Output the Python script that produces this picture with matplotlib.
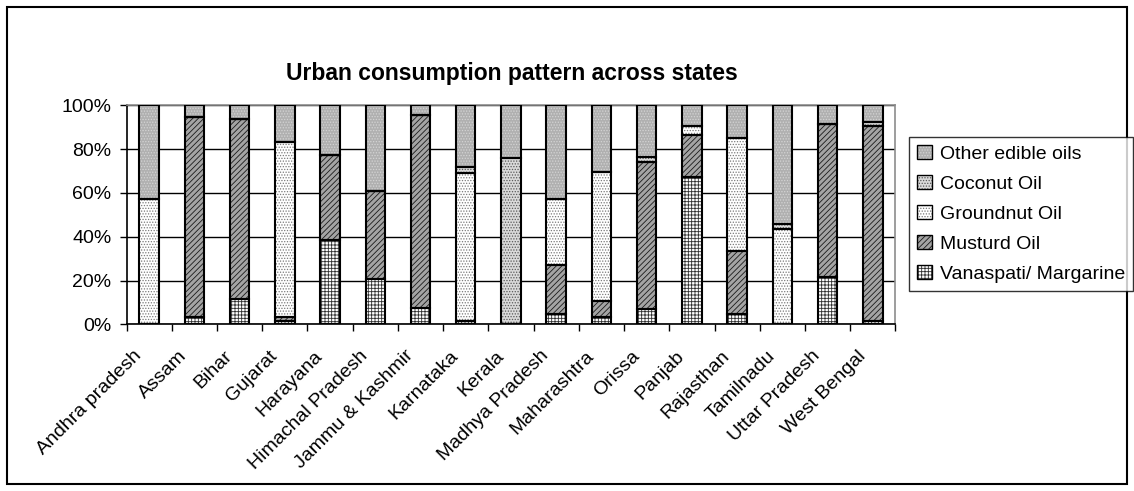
import numpy as np
import matplotlib
matplotlib.use("Agg")
from matplotlib import pyplot as plt
from matplotlib.patches import Patch, Rectangle
from matplotlib.transforms import ScaledTranslation

plt.rcParams['font.family'] = ['Liberation Sans', 'DejaVu Sans']
plt.rcParams['hatch.linewidth'] = 0.6

states = ["Andhra pradesh", "Assam", "Bihar", "Gujarat", "Harayana",
          "Himachal Pradesh", "Jammu & Kashmir", "Karnataka", "Kerala",
          "Madhya Pradesh", "Maharashtra", "Orissa", "Panjab", "Rajasthan",
          "Tamilnadu", "Uttar Pradesh", "West Bengal"]

# share of urban consumption, percent
vanaspati = [0, 3.5, 11.7, 1.5, 38.4, 20.5, 7.3, 1.5, 0, 4.6, 3.5, 6.8, 67.4, 4.6, 0, 21.8, 1.7]
mustard = [0, 91.0, 82.2, 2.0, 38.8, 40.2, 88.4, 0, 0, 22.5, 7.2, 67.2, 18.9, 29.0, 0, 69.8, 88.7]
groundnut = [57.4, 0, 0, 79.8, 0, 0, 0, 67.8, 0, 30.0, 59.0, 0, 4.4, 51.5, 43.4, 0, 0]
coconut = [0, 0, 0, 0, 0, 0, 0, 2.7, 75.8, 0, 0, 2.3, 0, 0, 2.3, 0, 2.0]
other = [42.6, 5.5, 6.1, 16.7, 22.8, 39.3, 4.3, 28.0, 24.2, 42.9, 30.3, 23.7, 9.3, 14.9, 54.3, 8.4, 7.6]

series = [
    ("Vanaspati/ Margarine", vanaspati, "white", "+++++", "#303030"),
    ("Musturd Oil", mustard, "#a4a4a4", "//////", "#1a1a1a"),
    ("Groundnut Oil", groundnut, "white", "......", "#7a7a7a"),
    ("Coconut Oil", coconut, "#dadada", "......", "#5a5a5a"),
    ("Other edible oils", other, "#b0b0b0", "......", "#d4d4d4"),
]

fig = plt.figure(figsize=(11.34, 4.91), dpi=100)
ax = fig.add_axes([0.1116, 0.3395, 0.678, 0.446])

x = np.arange(len(states))
width = 0.43
bottom = np.zeros(len(states))
handles = []
for name, vals, face, hatch, hcol in series:
    vals = np.array(vals, dtype=float)
    ax.bar(x, vals, width, bottom=bottom, color=face, hatch=hatch,
           edgecolor=hcol, linewidth=0, zorder=3)
    ax.bar(x, vals, width, bottom=bottom, fill=False, edgecolor="black",
           linewidth=1.5, zorder=4)
    bottom += vals
    handles.append((Patch(facecolor=face, hatch=hatch, edgecolor=hcol, linewidth=0),
                    Patch(fill=False, edgecolor="black", linewidth=1.0)))

ax.set_xlim(-0.5, len(states) - 0.5)
ax.set_ylim(0, 100)
ax.set_yticks(np.arange(0, 101, 20))
ax.set_yticklabels([f"{v}%" for v in range(0, 101, 20)], fontsize=14)
ax.yaxis.grid(True, color="black", linewidth=1.0, zorder=0)
ax.set_axisbelow(True)

# category names drawn as rotated text hanging off the axis
ax.set_xticks(x)
ax.set_xticklabels([])
label_offset = ax.get_xaxis_transform() + ScaledTranslation(-0.10, -0.29, fig.dpi_scale_trans)
for xi, name in zip(x, states):
    ax.text(xi, 0, name, transform=label_offset, fontsize=14, rotation=45,
            ha="right", va="center", rotation_mode="anchor", clip_on=False)
ax.set_xticks(np.arange(-0.5, len(states)), minor=True)
ax.tick_params(axis="x", which="major", length=0)
ax.tick_params(axis="x", which="minor", length=5, width=1, direction="out")
ax.tick_params(axis="y", length=5, width=1, pad=6)

for side in ("top", "right"):
    ax.spines[side].set_color("#8c8c8c")
    ax.spines[side].set_linewidth(1.2)
for side in ("left", "bottom"):
    ax.spines[side].set_color("black")
    ax.spines[side].set_linewidth(1.2)

fig.text(0.451, 0.851, "Urban consumption pattern across states",
         fontsize=16.5, fontweight="bold", ha="center", va="center")

leg = fig.legend(handles[::-1], [s[0] for s in series][::-1],
                 loc="upper left", bbox_to_anchor=(0.8016, 0.7216),
                 fontsize=14, frameon=True, fancybox=False,
                 handlelength=0.75, handleheight=0.75, handletextpad=0.4,
                 labelspacing=0.62, borderpad=0.42, borderaxespad=0)
leg.get_frame().set_edgecolor("black")
leg.get_frame().set_linewidth(1.0)

fig.patches.append(Rectangle((0.006, 0.014), 0.988, 0.972, transform=fig.transFigure,
                             fill=False, edgecolor="black", linewidth=1.5))

fig.savefig("out.png", dpi=100)
